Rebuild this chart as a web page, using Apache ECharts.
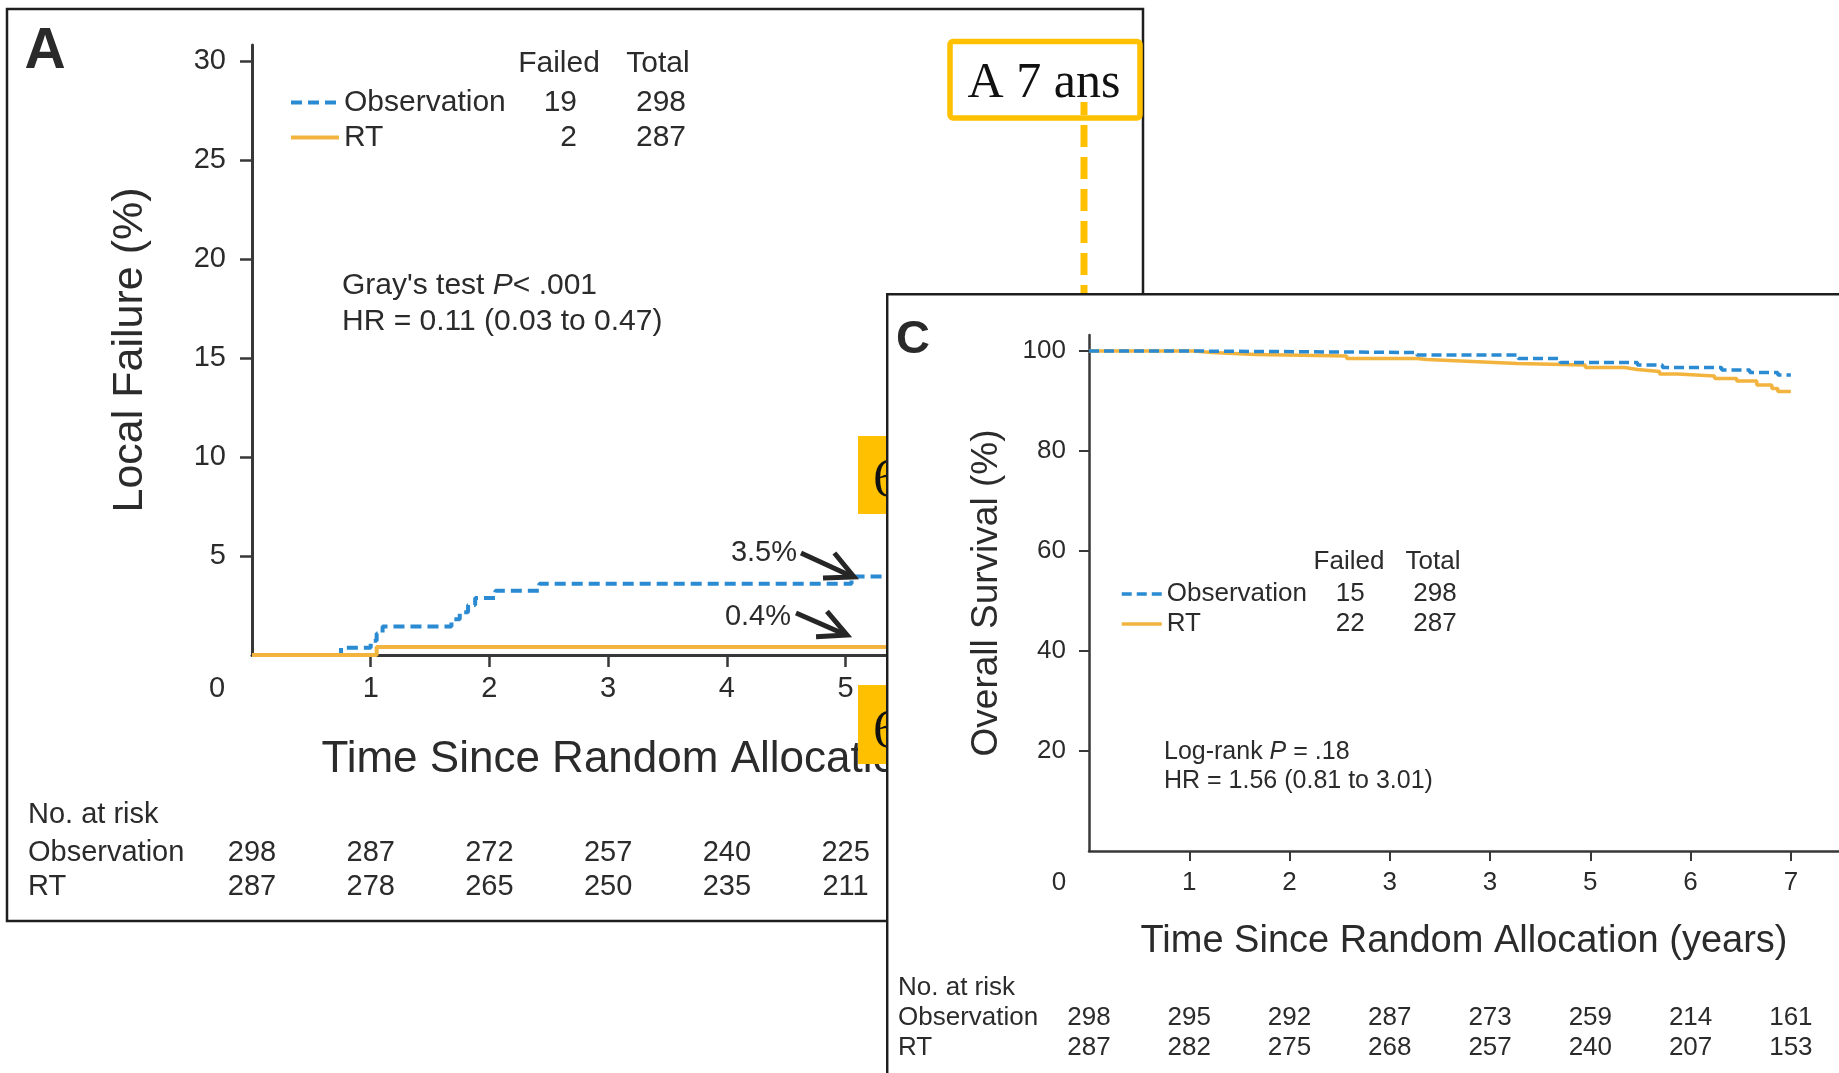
<!DOCTYPE html>
<html><head><meta charset="utf-8">
<script src="https://cdn.jsdelivr.net/npm/echarts@6/dist/echarts.min.js"></script>
<style>
html,body{margin:0;padding:0;width:1839px;height:1073px;overflow:hidden;background:#fff}
#a{position:absolute;left:0;top:0;width:1839px;height:1073px}
#c{position:absolute;left:886px;top:293px;width:953px;height:780px}
</style></head><body>
<div id="a"></div><div id="c"></div>
<script>
const FONT = "'Liberation Sans', Arial, Helvetica, sans-serif";
const SERIF = "'Liberation Serif', 'DejaVu Serif', serif";
const TXT = '#2b2b2b';
const AX = '#383838';
const BLUE = '#2a8ad2';
const GOLD = '#f2b43e';
const YEL = '#ffc000';

// ---------- data ----------
const seriesNames = ['Observation', 'RT'];
const xTickLabelsA = ['0','1','2','3','4','5','6','7'];
const xTickLabelsC = ['0','1','2','3','3','5','6','7'];
const yTicksA = [5,10,15,20,25,30];
const yTicksC = [20,40,60,80,100];

// Panel A: local failure (%)
const obsLF_t = [0, 0.75, 1.0, 1.05, 1.1, 1.68, 1.75, 1.82, 1.88, 2.05, 2.42, 5.05, 5.5];
const obsLF_v = [0, 0.36, 0.72, 1.08, 1.44, 1.80, 2.16, 2.52, 2.88, 3.24, 3.6, 3.96, 3.96];
const rtLF_t = [0, 1.05, 5.5];
const rtLF_v = [0, 0.4, 0.4];
const failedA = [19, 2];
const totalA = [298, 287];
const riskA_obs = [298, 287, 272, 257, 240, 225];
const riskA_rt = [287, 278, 265, 250, 235, 211];

// Panel C: overall survival (%)
const obsOS_t = [0, 1.0, 3.27, 4.28, 4.70, 5.47, 5.72, 6.31, 6.59, 6.87, 7.0];
const obsOS_v = [100, 99.7, 99.2, 98.5, 97.7, 97.2, 96.7, 96.2, 95.7, 95.2, 95.2];
const rtOS_t = [0, 1.04, 1.23, 1.66, 2.57, 3.27, 3.37, 3.82, 4.27, 4.95, 5.34, 5.47, 5.69, 5.87, 6.24, 6.46, 6.66, 6.81, 6.87, 7.0];
const rtOS_v = [100, 99.7, 99.3, 99.0, 98.5, 98.3, 97.9, 97.5, 97.2, 96.7, 96.3, 95.9, 95.4, 95.0, 94.5, 94.0, 93.2, 92.5, 91.9, 91.9];
const failedC = [15, 22];
const totalC = [298, 287];
const riskC_obs = [298, 295, 292, 287, 273, 259, 214, 161];
const riskC_rt = [287, 282, 275, 268, 257, 240, 207, 153];

const pairs = (t, v) => t.map((x, i) => [x, v[i]]);
const idx = n => Array.from({length: n}, (_, i) => i);

function arrow(x1, y1, x2, y2) {
  const ang = Math.atan2(y2 - y1, x2 - x1), L = 31, a = 0.46;
  const p1 = [x2 - L * Math.cos(ang - a), y2 - L * Math.sin(ang - a)];
  const p2 = [x2 - L * Math.cos(ang + a), y2 - L * Math.sin(ang + a)];
  return [
    {type: 'polyline', shape: {points: [[x1, y1], [x2 - 3, y2 - 1]]}, style: {stroke: '#262626', lineWidth: 5, fill: null}, z: 50},
    {type: 'polyline', shape: {points: [p1, [x2, y2], p2]}, style: {stroke: '#262626', lineWidth: 5, fill: null, lineJoin: 'miter'}, z: 50}
  ];
}
function txt(x, y, s, size, opt, z) {
  return {type: 'text', x: x, y: y, z: z || 50,
    style: Object.assign({text: s, fontSize: size, fontFamily: FONT, fill: TXT, align: 'left', verticalAlign: 'middle'}, opt || {})};
}
function riskAxis(offset, arr, fs, max) {
  return {type: 'value', min: 0, max: max, position: 'bottom', offset: offset,
    axisLine: {show: false}, axisTick: {show: false}, splitLine: {show: false},
    axisLabel: {customValues: idx(arr.length), margin: 0, fontSize: fs, fontFamily: FONT, color: TXT,
      formatter: v => (arr[Math.round(v)] !== undefined ? String(arr[Math.round(v)]) : '')}};
}
function legendOpt(left, top, iw, fs, lh, wn, wf, wt, failed, total, styles) {
  const base = {fontSize: fs, fontFamily: FONT, color: TXT, lineHeight: lh};
  return {orient: 'vertical', left: left, top: top, itemWidth: iw, itemHeight: 12, itemGap: 0,
    selectedMode: false, padding: 0,
    data: seriesNames.map((n, i) => ({name: n, lineStyle: styles[i]})),
    itemStyle: {opacity: 0},
    textStyle: Object.assign({}, base, {rich: {
      n: Object.assign({width: wn}, base),
      f: Object.assign({width: wf, align: 'right'}, base),
      t: Object.assign({width: wt, align: 'right'}, base)}}),
    formatter: name => {
      const i = seriesNames.indexOf(name);
      return '{n|' + name + '}{f|' + failed[i] + '}{t|' + total[i] + '}';
    }};
}

// ---------- panel A ----------
const lsA = [{color: BLUE, width: 4, type: [11, 6]}, {color: GOLD, width: 4, type: 'solid'}];
const chartA = echarts.init(document.getElementById('a'), null, {renderer: 'canvas'});
const optA = {
  animation: false,
  backgroundColor: '#fff',
  textStyle: {fontFamily: FONT},
  grid: {left: 252, top: 45, width: 888, height: 610},
  legend: legendOpt(289, 85, 48, 30, 35, 190, 43, 109, failedA, totalA, lsA),
  xAxis: [
    {type: 'value', min: 0, max: 7.48,
      axisLine: {show: true, onZero: false, lineStyle: {color: AX, width: 3}},
      axisTick: {show: true, length: 12, customValues: [1,2,3,4,5,6,7], lineStyle: {color: AX, width: 2.5}},
      axisLabel: {customValues: idx(8), margin: 19, fontSize: 29, fontFamily: FONT, color: TXT,
        formatter: v => (v === 0 ? '{z|' + xTickLabelsA[0] + '}' : xTickLabelsA[v]),
        rich: {z: {fontSize: 29, fontFamily: FONT, color: TXT, padding: [0, 70, 0, 0]}}},
      splitLine: {show: false},
      name: 'Time Since Random Allocation (years)', nameLocation: 'middle', nameGap: 83,
      nameTextStyle: {fontSize: 44, fontFamily: FONT, color: TXT}},
    riskAxis(183, riskA_obs, 29, 7.48),
    riskAxis(217, riskA_rt, 29, 7.48)
  ],
  yAxis: {type: 'value', min: 0, max: 30.8,
    axisLine: {show: true, lineStyle: {color: AX, width: 3}},
    axisTick: {show: true, length: 12, customValues: yTicksA, lineStyle: {color: AX, width: 2.5}},
    axisLabel: {customValues: yTicksA, margin: 26, fontSize: 29, fontFamily: FONT, color: TXT},
    splitLine: {show: false},
    name: 'Local Failure (%)', nameLocation: 'middle', nameRotate: 90, nameGap: 100,
    nameTextStyle: {fontSize: 43, fontFamily: FONT, color: TXT}},
  series: [
    {type: 'line', name: 'Observation', data: pairs(obsLF_t, obsLF_v), step: 'end', symbol: 'none', clip: false,
      lineStyle: lsA[0], itemStyle: {color: BLUE}, z: 3},
    {type: 'line', name: 'RT', data: pairs(rtLF_t, rtLF_v), step: 'end', symbol: 'none', clip: false,
      lineStyle: lsA[1], itemStyle: {color: GOLD}, z: 4}
  ],
  graphic: [
    {type: 'rect', shape: {x: 7, y: 9, width: 1136, height: 912}, style: {fill: null, stroke: '#1e1e1e', lineWidth: 2.5}, z: 1},
    txt(45, 52, 'A', 57, {fontWeight: 'bold', align: 'center', fill: '#2a2a2a'}),
    txt(559, 64, 'Failed', 30, {align: 'center'}),
    txt(658, 64, 'Total', 30, {align: 'center'}),
    txt(342, 286, "Gray's test {i|P}< .001", 30, {rich: {i: {fontStyle: 'italic', fontSize: 30, fontFamily: FONT, fill: TXT}}}),
    txt(342, 322, 'HR = 0.11 (0.03 to 0.47)', 30),
    txt(797, 553, '3.5%', 29, {align: 'right'}),
    txt(791, 617, '0.4%', 29, {align: 'right'}),
    ...arrow(801, 553, 854, 577),
    ...arrow(796, 613, 847, 635),
    {type: 'rect', shape: {x: 858, y: 436, width: 80, height: 78}, style: {fill: YEL}, z: 40},
    txt(873, 482, '6', 54, {fontFamily: SERIF, fill: '#111'}),
    {type: 'rect', shape: {x: 858, y: 685, width: 80, height: 79}, style: {fill: YEL}, z: 40},
    txt(873, 733, '6', 54, {fontFamily: SERIF, fill: '#111'}),
    txt(28, 815, 'No. at risk', 29),
    txt(28, 853, 'Observation', 29),
    txt(28, 887, 'RT', 29),
    {type: 'rect', shape: {x: 950, y: 41.5, width: 190, height: 76.5, r: 3}, style: {fill: '#fff', stroke: YEL, lineWidth: 5.5}, z: 60},
    txt(1044, 84, 'A 7 ans', 50, {fontFamily: SERIF, fill: '#111', align: 'center'}, 65),
    {type: 'line', shape: {x1: 1084, y1: 102, x2: 1084, y2: 293}, style: {stroke: YEL, lineWidth: 7, lineDash: [22, 10], lineDashOffset: 9}, z: 70}
  ]
};
chartA.setOption(optA);

// ---------- panel C ----------
const lsC = [{color: BLUE, width: 3.5, type: [10, 5]}, {color: GOLD, width: 3.5, type: 'solid'}];
const chartC = echarts.init(document.getElementById('c'), null, {renderer: 'canvas'});
const optC = {
  animation: false,
  backgroundColor: '#fff',
  textStyle: {fontFamily: FONT},
  grid: {left: 203, top: 42, width: 750, height: 516},
  legend: legendOpt(234, 286, 40, 26, 30, 158, 40, 92, failedC, totalC, lsC),
  xAxis: [
    {type: 'value', min: 0, max: 7.48,
      axisLine: {show: true, onZero: false, lineStyle: {color: AX, width: 2.5}},
      axisTick: {show: true, length: 10, customValues: [1,2,3,4,5,6,7], lineStyle: {color: AX, width: 2}},
      axisLabel: {customValues: idx(8), margin: 19, fontSize: 26, fontFamily: FONT, color: TXT,
        formatter: v => (v === 0 ? '{z|' + xTickLabelsC[0] + '}' : xTickLabelsC[v]),
        rich: {z: {fontSize: 26, fontFamily: FONT, color: TXT, padding: [0, 60, 0, 0]}}},
      splitLine: {show: false},
      name: 'Time Since Random Allocation (years)', nameLocation: 'middle', nameGap: 72,
      nameTextStyle: {fontSize: 38, fontFamily: FONT, color: TXT}},
    riskAxis(154, riskC_obs, 26, 7.48),
    riskAxis(184, riskC_rt, 26, 7.48)
  ],
  yAxis: {type: 'value', min: 0, max: 103.2,
    axisLine: {show: true, lineStyle: {color: AX, width: 2.5}},
    axisTick: {show: true, length: 10, customValues: yTicksC, lineStyle: {color: AX, width: 2}},
    axisLabel: {customValues: yTicksC, margin: 23, fontSize: 26, fontFamily: FONT, color: TXT},
    splitLine: {show: false},
    name: 'Overall Survival (%)', nameLocation: 'middle', nameRotate: 90, nameGap: 84,
    nameTextStyle: {fontSize: 37, fontFamily: FONT, color: TXT}},
  series: [
    {type: 'line', name: 'Observation', data: pairs(obsOS_t, obsOS_v), step: 'end', symbol: 'none', clip: false,
      lineStyle: lsC[0], itemStyle: {color: BLUE}, z: 4},
    {type: 'line', name: 'RT', data: pairs(rtOS_t, rtOS_v), step: 'end', symbol: 'none', clip: false,
      lineStyle: lsC[1], itemStyle: {color: GOLD}, z: 3}
  ],
  graphic: [
    {type: 'line', shape: {x1: 0, y1: 1.2, x2: 953, y2: 1.2}, style: {stroke: '#1e1e1e', lineWidth: 2.5}, z: 80},
    {type: 'line', shape: {x1: 1.2, y1: 0, x2: 1.2, y2: 780}, style: {stroke: '#1e1e1e', lineWidth: 2.5}, z: 80},
    txt(27, 47, 'C', 47, {fontWeight: 'bold', align: 'center', fill: '#2a2a2a'}),
    txt(463, 269, 'Failed', 26, {align: 'center'}),
    txt(547, 269, 'Total', 26, {align: 'center'}),
    txt(278, 459, 'Log-rank {i|P} = .18', 25, {rich: {i: {fontStyle: 'italic', fontSize: 25, fontFamily: FONT, fill: TXT}}}),
    txt(278, 488, 'HR = 1.56 (0.81 to 3.01)', 25),
    txt(12, 695, 'No. at risk', 26),
    txt(12, 725, 'Observation', 26),
    txt(12, 755, 'RT', 26)
  ]
};
chartC.setOption(optC);
</script>
</body></html>
